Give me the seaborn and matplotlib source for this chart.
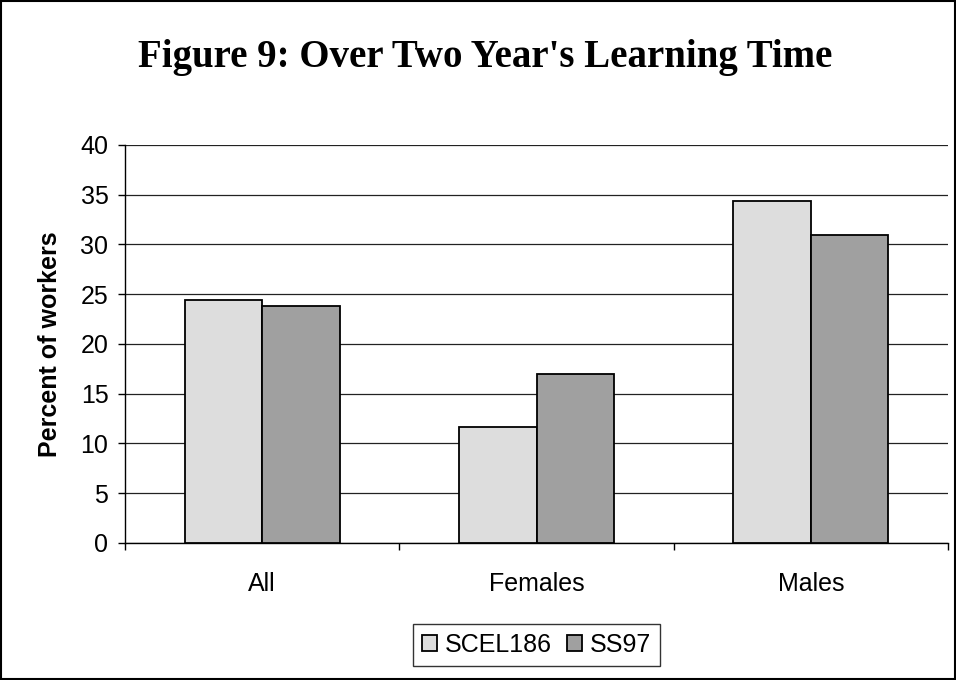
import matplotlib
matplotlib.use("Agg")
import matplotlib.pyplot as plt
import seaborn as sns
import pandas as pd
from matplotlib.patches import Rectangle

categories = ["All", "Females", "Males"]
series = ["SCEL186", "SS97"]
scel186 = [24.4, 11.7, 34.4]
ss97 = [23.8, 17.0, 31.0]
yticks = [0, 5, 10, 15, 20, 25, 30, 35, 40]

df = pd.DataFrame({
    "Category": categories * 2,
    "Series": [series[0]] * 3 + [series[1]] * 3,
    "Value": scel186 + ss97,
})

sns.set_theme(style="white")
plt.rcParams['font.family'] = ['Liberation Sans', 'DejaVu Sans']
plt.rcParams['text.color'] = 'black'
plt.rcParams['axes.labelcolor'] = 'black'
plt.rcParams['xtick.color'] = 'black'
plt.rcParams['ytick.color'] = 'black'

fig = plt.figure(figsize=(9.56, 6.8), dpi=100)
ax = fig.add_axes([0.1308, 0.2015, 0.8608, 0.5853])

palette = {"SCEL186": "#DDDDDD", "SS97": "#A0A0A0"}
sns.barplot(data=df, x="Category", y="Value", hue="Series", order=categories,
            hue_order=series, palette=palette, width=0.566, edgecolor="black",
            linewidth=1.3, saturation=1, ax=ax, zorder=3, legend=True)

FS = 18
ax.set_ylim(0, 40)
ax.set_xlim(-0.5, 2.5)
ax.set_yticks(yticks)
ax.set_yticklabels([str(v) for v in yticks], fontsize=FS, color="black")
ax.set_xticks([0, 1, 2])
ax.set_xticklabels(categories, fontsize=FS, color="black")
ax.tick_params(axis="x", which="major", length=0, pad=21)
ax.set_xticks([-0.5, 0.5, 1.5, 2.5], minor=True)
ax.tick_params(axis="x", which="minor", length=5, width=1, color="black", direction="out", bottom=True)
ax.tick_params(axis="y", length=5, width=1, color="black", direction="out", left=True, pad=7)
ax.set_xlabel("")
ax.set_ylabel("Percent of workers", fontsize=FS, fontweight="bold", labelpad=13, color="black")

ax.yaxis.grid(True, color="#222222", linewidth=0.9, zorder=0)
ax.set_axisbelow(True)
for s in ["top", "right"]:
    ax.spines[s].set_visible(False)
for s in ["left", "bottom"]:
    ax.spines[s].set_color("black")
    ax.spines[s].set_linewidth(1)

leg = ax.legend(loc="center", bbox_to_anchor=(536.5 / 956, 1 - 645 / 680),
                bbox_transform=fig.transFigure, ncol=2, fontsize=FS,
                frameon=True, fancybox=False, handlelength=0.62, handleheight=0.62,
                handletextpad=0.3, columnspacing=0.6, borderpad=0.35, borderaxespad=0)
leg.get_frame().set_edgecolor("black")
leg.get_frame().set_linewidth(1)
for t in leg.get_texts():
    t.set_color("black")

fig.text(485 / 956, 1 - 57 / 680, "Figure 9: Over Two Year's Learning Time",
         ha="center", va="center", fontsize=28, fontweight="bold", color="black",
         family=["Liberation Serif", "DejaVu Serif"])

fig.patches.append(Rectangle((0.001, 0.001), 0.998, 0.997, transform=fig.transFigure,
                             fill=False, edgecolor="black", linewidth=1.5))

fig.savefig("out.png", dpi=100)
